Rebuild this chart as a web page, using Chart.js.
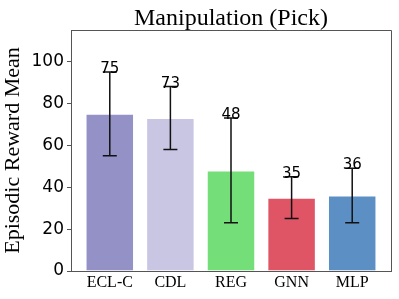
<!DOCTYPE html>
<html>
<head>
<meta charset="utf-8">
<script src="https://cdn.jsdelivr.net/npm/chart.js@4/dist/chart.umd.min.js"></script>
<style>
  html, body { margin: 0; padding: 0; background: #fff; }
  #wrap { width: 399px; height: 299px; }
</style>
</head>
<body>
<div id="wrap"><canvas id="grafico" width="399" height="299"></canvas></div>
<script>
// datos del gráfico
const categorias = ["ECL-C", "CDL", "REG", "GNN", "MLP"];
const medias = [75, 73, 48, 35, 36];
const errores = [20, 15, 25, 10, 13];
const colores = ["#9491c6", "#c9c6e4", "#74de78", "#df5566", "#5c90c4"];
const ticksY = [0, 20, 40, 60, 80, 100];

// plugin: título, marco, barras de error y etiquetas de valor
const extras = {
  id: "extras",
  afterDatasetsDraw(chart) {
    const { ctx, chartArea, scales } = chart;
    const x = scales.x, y = scales.y;
    ctx.save();
    // marco superior y derecho
    ctx.strokeStyle = "#555";
    ctx.lineWidth = 1;
    ctx.beginPath();
    ctx.moveTo(chartArea.left, chartArea.top + 0.5);
    ctx.lineTo(chartArea.right + 0.5, chartArea.top + 0.5);
    ctx.lineTo(chartArea.right + 0.5, chartArea.bottom);
    ctx.stroke();
    // barras de error
    ctx.strokeStyle = "#111";
    ctx.lineWidth = 1.5;
    medias.forEach((m, i) => {
      const cx = x.getPixelForValue(i);
      const yTop = y.getPixelForValue(m + errores[i]);
      const yBot = y.getPixelForValue(m - errores[i]);
      ctx.beginPath();
      ctx.moveTo(cx, yTop); ctx.lineTo(cx, yBot);
      ctx.moveTo(cx - 7, yTop); ctx.lineTo(cx + 7, yTop);
      ctx.moveTo(cx - 7, yBot); ctx.lineTo(cx + 7, yBot);
      ctx.stroke();
      // etiqueta de valor
      ctx.fillStyle = "#000";
      ctx.font = "15px 'DejaVu Sans'";
      ctx.textAlign = "center";
      ctx.textBaseline = "alphabetic";
      ctx.fillText(String(m), cx, yTop + 1);
    });
    // título
    ctx.fillStyle = "#000";
    ctx.font = "24px 'Liberation Serif'";
    ctx.textAlign = "center";
    ctx.fillText("Manipulation (Pick)", (chartArea.left + chartArea.right) / 2, 25);
    ctx.restore();
  }
};

new Chart(document.getElementById("grafico"), {
  type: "bar",
  data: {
    datasets: [{
      data: medias.map((v, i) => ({ x: i, y: v })),
      backgroundColor: colores,
      borderColor: "rgba(255,255,255,0.5)",
      borderWidth: 1,
      barPercentage: 0.8,
      categoryPercentage: 1.0,
    }],
  },
  options: {
    responsive: false,
    animation: false,
    layout: { padding: { top: 30, right: 8, left: 0, bottom: 0 } },
    plugins: { legend: { display: false }, tooltip: { enabled: false } },
    scales: {
      x: {
        type: "linear",
        offset: false,
        min: -0.64,
        max: 4.64,
        afterBuildTicks: (s) => { s.ticks = categorias.map((c, i) => ({ value: i })); },
        afterFit: (s) => { s.height = 28; },
        ticks: {
          callback: (v) => categorias[v],
          color: "#000",
          font: { family: "'Liberation Serif'", size: 16 },
          padding: 2,
          maxRotation: 0,
        },
        grid: { display: false, drawTicks: false },
        border: { color: "#555", width: 1 },
      },
      y: {
        min: 0,
        max: 115,
        afterBuildTicks: (s) => { s.ticks = ticksY.map((v) => ({ value: v })); },
        afterFit: (s) => { s.width = 71; },
        ticks: {
          color: "#000",
          font: { family: "'DejaVu Sans'", size: 17 },
          padding: 3,
        },
        grid: { drawOnChartArea: false, drawTicks: true, tickLength: 4, color: "#555" },
        border: { color: "#555", width: 1 },
        title: {
          display: true,
          text: "Episodic Reward Mean",
          color: "#000",
          font: { family: "'Liberation Serif'", size: 22 },
          padding: { top: 0, bottom: 0 },
        },
      },
    },
  },
  plugins: [extras],
});
</script>
</body>
</html>
